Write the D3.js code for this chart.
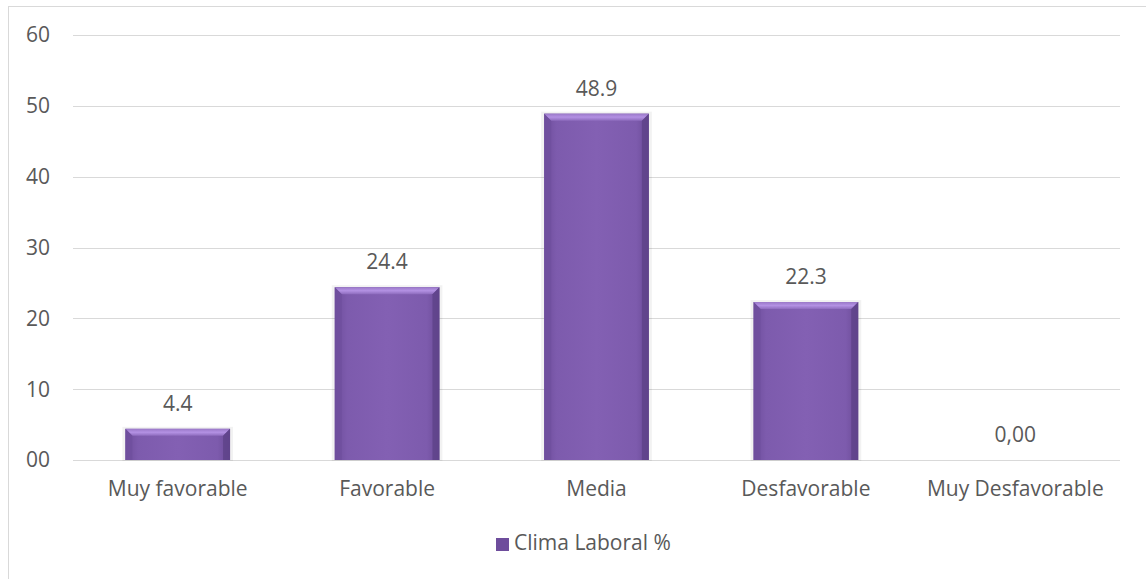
<!DOCTYPE html>
<html>
<head>
<meta charset="utf-8">
<script src="https://cdn.jsdelivr.net/npm/d3@7"></script>
<style>
  body { margin: 0; background: #fff; }
  text { font-family: "Open Sans", "Noto Sans", sans-serif; fill: #595959; }
</style>
</head>
<body>
<div id="chart"></div>
<script>
// data
const categories = ["Muy favorable", "Favorable", "Media", "Desfavorable", "Muy Desfavorable"];
const values = [4.4, 24.4, 48.9, 22.3, 0];
const valueLabels = ["4.4", "24.4", "48.9", "22.3", "0,00"];
const yTicks = [0, 10, 20, 30, 40, 50, 60];
const seriesName = "Clima Laboral %";

var W = 1146, H = 579;
var margin = {top: 35, left: 73, right: 26, bottom: 119};
var width = W - margin.left - margin.right;
var height = H - margin.top - margin.bottom;
var fontSize = "21px";

var svg = d3.select("#chart").append("svg")
  .attr("width", W).attr("height", H);

// outer border
svg.append("rect")
  .attr("x", 8.5).attr("y", 6.5)
  .attr("width", W).attr("height", H)
  .style("fill", "none").style("stroke", "#d9d9d9");

var defs = svg.append("defs");
var grad = defs.append("linearGradient").attr("id", "barGrad")
  .attr("x1", "0").attr("x2", "1").attr("y1", "0").attr("y2", "0");
grad.append("stop").attr("offset", "0%").attr("stop-color", "#6e4d9c");
grad.append("stop").attr("offset", "12%").attr("stop-color", "#7d5bad");
grad.append("stop").attr("offset", "50%").attr("stop-color", "#8360b3");
grad.append("stop").attr("offset", "88%").attr("stop-color", "#7d5bad");
grad.append("stop").attr("offset", "100%").attr("stop-color", "#6a4a96");

var topGrad = defs.append("linearGradient").attr("id", "topGrad")
  .attr("x1", "0").attr("x2", "0").attr("y1", "0").attr("y2", "1");
topGrad.append("stop").attr("offset", "0%").attr("stop-color", "#9a78c8");
topGrad.append("stop").attr("offset", "50%").attr("stop-color", "#b391e3");
topGrad.append("stop").attr("offset", "100%").attr("stop-color", "#8e6cbe");

var g = svg.append("g").attr("transform", "translate(" + margin.left + "," + margin.top + ")");

var x = d3.scaleBand().domain(categories).range([0, width]).paddingInner(0.5).paddingOuter(0.25);
var y = d3.scaleLinear().domain([0, 60]).range([height, 0]);

// gridlines
g.selectAll(".grid").data(yTicks).enter().append("line")
  .attr("x1", 0).attr("x2", width)
  .attr("y1", function(d){ return Math.round(y(d)) + 0.5; })
  .attr("y2", function(d){ return Math.round(y(d)) + 0.5; })
  .style("stroke", "#d9d9d9").style("stroke-width", 1);

// y labels
g.selectAll(".ylab").data(yTicks).enter().append("text")
  .attr("x", -23).attr("y", function(d){ return y(d); })
  .attr("dy", "0.35em")
  .style("text-anchor", "end").style("font-size", fontSize)
  .text(function(d){ return d3.format("02d")(d); });

// bars
var bars = g.selectAll(".bar").data(categories).enter().append("g")
  .attr("class", "bar");

bars.each(function(d, i){
  var sel = d3.select(this);
  var x0 = x(d), bw = x.bandwidth();
  var y0 = y(values[i]), bh = height - y0;
  if (bh <= 0) return;
  var b = Math.min(7, bh / 2);
  // faint shadow
  sel.append("rect").attr("x", x0 - 3).attr("y", y0 - 2).attr("width", bw + 6).attr("height", bh + 3)
    .style("fill", "#000").style("opacity", 0.05);
  sel.append("rect").attr("x", x0).attr("y", y0).attr("width", bw).attr("height", bh)
    .style("fill", "url(#barGrad)");
  // top bevel
  sel.append("polygon")
    .attr("points", [[x0, y0], [x0 + bw, y0], [x0 + bw - b, y0 + b], [x0 + b, y0 + b]].join(" "))
    .style("fill", "url(#topGrad)");
  // left bevel
  sel.append("polygon")
    .attr("points", [[x0, y0], [x0 + b, y0 + b], [x0 + b, y0 + bh], [x0, y0 + bh]].join(" "))
    .style("fill", "#6f4f9e").style("opacity", 0.8);
  // right bevel
  sel.append("polygon")
    .attr("points", [[x0 + bw, y0], [x0 + bw - b, y0 + b], [x0 + bw - b, y0 + bh], [x0 + bw, y0 + bh]].join(" "))
    .style("fill", "#5e4288").style("opacity", 0.8);
});

// value labels
g.selectAll(".vlab").data(categories).enter().append("text")
  .attr("x", function(d){ return x(d) + x.bandwidth() / 2; })
  .attr("y", function(d, i){ return y(values[i]) - 18; })
  .style("text-anchor", "middle").style("font-size", fontSize)
  .text(function(d, i){ return valueLabels[i]; });

// category labels
g.selectAll(".xlab").data(categories).enter().append("text")
  .attr("x", function(d){ return x(d) + x.bandwidth() / 2; })
  .attr("y", height + 36)
  .style("text-anchor", "middle").style("font-size", fontSize)
  .text(function(d){ return d; });

// legend
var leg = svg.append("g").attr("transform", "translate(496,538)");
leg.append("rect").attr("width", 13).attr("height", 13).style("fill", "#6e4d9c");
leg.append("text").attr("x", 18).attr("y", 12)
  .style("font-size", fontSize).text(seriesName);
</script>
</body>
</html>
